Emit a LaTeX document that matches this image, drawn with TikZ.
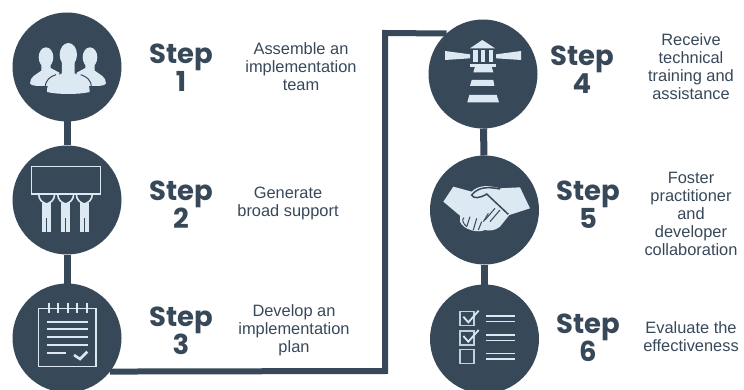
\documentclass[tikz,border=0pt]{standalone}
\usepackage{fontspec}
\setmainfont{Liberation Sans}
\newfontfamily\stepfont{Poppins}
\usepackage{tikz}
\usetikzlibrary{positioning}
\definecolor{slate}{HTML}{374859}
\definecolor{pale}{HTML}{DCE9F3}

\begin{document}
\begin{tikzpicture}[x=1pt,y=-1pt,
    stepcircle/.style={circle, fill=slate, minimum size=109pt, inner sep=0pt, outer sep=0pt},
    stepname/.style={text=slate, align=center, font=\stepfont\bfseries\fontsize{27.5}{28}\selectfont},
    steptext/.style={text=slate, align=center, font=\fontsize{16.4}{18}\selectfont},
    link/.style={draw=slate, line width=7pt},
    longlink/.style={draw=slate, line width=6pt},
    icon/.style={fill=pale, draw=none},
    iconline/.style={draw=pale, line width=1.6pt},
    iconcut/.style={draw=slate, line width=1pt}
]
\useasboundingbox (0,0) rectangle (744,390);
\clip (0,0) rectangle (744,390);

% Circles
\node[stepcircle] (c1) at (67,67) {};
\node[stepcircle] (c2) at (67,200) {};
\node[stepcircle] (c3) at (67,338) {};
\node[stepcircle] (c4) at (483,74) {};
\node[stepcircle] (c5) at (484.5,210) {};
\node[stepcircle] (c6) at (484.5,339) {};

% Connections
\coordinate (bendlow) at (385,371);
\coordinate (bendtop) at (385,33);
\draw[link] (c1) -- (c2);
\draw[link] (c2) -- (c3);
\draw[link] (c4) -- (c5);
\draw[link] (c5) -- (c6);
\draw[longlink] (c3.-38) -- (bendlow) -- (bendtop) -- (c4.132);

% Step names
\node[stepname] (s1) at (181,68) {Step\\1};
\node[stepname] (s2) at (181,205) {Step\\2};
\node[stepname] (s3) at (181,331) {Step\\3};
\node[stepname] (s4) at (582,70) {Step\\4};
\node[stepname] (s5) at (588,205) {Step\\5};
\node[stepname] (s6) at (588,338) {Step\\6};

% Descriptions
\node[steptext] (t1) at (301,67) {Assemble an\\implementation\\team};
\node[steptext] (t2) at (288,203) {Generate\\broad support};
\node[steptext] (t3) at (294,330.5) {Develop an\\implementation\\plan};
\node[steptext] (t4) at (691,67) {Receive\\technical\\training and\\assistance};
\node[steptext] (t5) at (691,214) {Foster\\practitioner\\and\\developer\\collaboration};
\node[steptext] (t6) at (691,337) {Evaluate the\\effectiveness};

% Icon 1: team
\begin{scope}[shift={(0,0)},scale=1/3]
\foreach \x/\m in {138/1,270/-1} {
    \fill[icon] (\x,172) ellipse (22 and 30);
    \fill[icon] (\x-14*\m,190) -- (\x-14*\m,212) .. controls (\x-30*\m,224) and (\x-48*\m,230) .. (\x-48*\m,250)
        .. controls (\x-44*\m,258) and (\x-30*\m,258) .. (\x,258) -- (\x+40*\m,258) -- (\x+40*\m,218) -- (\x+14*\m,204) -- (\x+14*\m,190) -- cycle;
}
\fill[icon] (141,276) .. controls (140,240) and (165,232) .. (186,220)
    -- (186,185) -- (224,185) -- (224,220) .. controls (245,232) and (270,240) .. (269,276)
    .. controls (235,284) and (175,284) .. (141,276) -- cycle;
\fill[icon] (205,164) ellipse (26 and 35);
\draw[iconcut] (136,262) .. controls (136,240) and (150,230) .. (168,224);
\draw[iconcut] (274,262) .. controls (274,240) and (260,230) .. (242,224);
\end{scope}

% Icon 2: people holding a board
\begin{scope}[shift={(0,130)},scale=1/3]
\draw[iconline,line width=1.3pt] (95,110) rectangle (302,192);
\foreach \x in {140,197,253} {
    \fill[icon] (\x-13,219) rectangle (\x+13,265);
    \fill[icon] (\x-13,265) rectangle (\x-2,306);
    \fill[icon] (\x+2,265) rectangle (\x+13,306);
    \draw[iconline] (\x-24,192) .. controls (\x-24,210) and (\x-12,218) .. (\x,222)
        .. controls (\x+12,218) and (\x+24,210) .. (\x+24,192);
}
\end{scope}

% Icon 3: notepad
\begin{scope}[shift={(0,260)},scale=1/3]
\draw[iconline] (115,145) rectangle (288,320);
\foreach \x in {147,175,205,232,262} {
    \draw[iconline,line width=2.2pt] (\x,130) -- (\x,158);
}
\foreach \y in {185,208,232,255} {
    \draw[iconline,line width=1.8pt] (140,\y) -- (263,\y);
}
\draw[iconline,line width=1.8pt] (140,278) -- (198,278);
\draw[iconline,line width=2.6pt] (222,285) -- (240,297) -- (262,275);
\end{scope}

% Icon 4: lighthouse
\begin{scope}[shift={(375,15)},scale=1/3]
\fill[icon] (285,100) -- (322,75) -- (360,100) -- cycle;
\foreach \x in {295,318,342} {
    \fill[icon] (\x,105) rectangle (\x+13,140);
}
\fill[icon] (210,108) -- (285,118) -- (285,130) -- (210,135) -- cycle;
\fill[icon] (363,118) -- (438,108) -- (438,135) -- (363,130) -- cycle;
\fill[icon] (285,147) rectangle (362,155);
\fill[icon] (300,155) -- (350,155) -- (355,172) -- (295,172) -- cycle;
\fill[icon] (290,195) -- (355,195) -- (358,213) -- (285,213) -- cycle;
\fill[icon] (283,240) -- (365,240) -- (372,262) -- (277,262) -- cycle;
\end{scope}

% Icon 5: handshake
\begin{scope}[shift={(420,145)},scale=1/3]
\fill[icon] (100,125) -- (155,140) .. controls (175,120) and (205,120) .. (240,130) -- (300,127)
    -- (330,190) -- (268,210) -- (240,245) .. controls (225,258) and (205,258) .. (195,255)
    .. controls (175,265) and (130,255) .. (120,230) -- (120,212) -- (70,170) -- cycle;
\draw[iconcut,line width=1.5pt] (240,132) .. controls (205,125) and (175,125) .. (155,150)
    .. controls (160,162) and (180,160) .. (200,147) -- (265,208);
\draw[iconcut] (240,195) -- (210,230);
\draw[iconcut] (225,190) -- (195,225);
\draw[iconcut] (205,205) -- (190,230);
\draw[iconcut] (132,218) .. controls (125,222) and (128,235) .. (140,245);
\draw[iconcut] (150,215) -- (140,245);
\draw[iconcut] (170,220) -- (160,255);
\draw[iconcut] (185,230) -- (175,255);
\end{scope}

% Icon 6: checklist
\begin{scope}[shift={(420,265)},scale=1/3]
\foreach \y in {140,198,253} {
    \draw[iconline,opacity=0.85] (120,\y) rectangle (162,\y+42);
}
\foreach \y in {153,210,265} {
    \draw[iconline,line width=1.2pt] (197,\y) -- (285,\y);
    \draw[iconline,line width=1.2pt] (197,\y+17) -- (285,\y+17);
}
\foreach \y in {0,58} {
    \draw[iconline,line width=1.8pt] (130,155+\y) -- (145,172+\y) -- (176,137+\y);
}
\end{scope}

\end{tikzpicture}
\end{document}
